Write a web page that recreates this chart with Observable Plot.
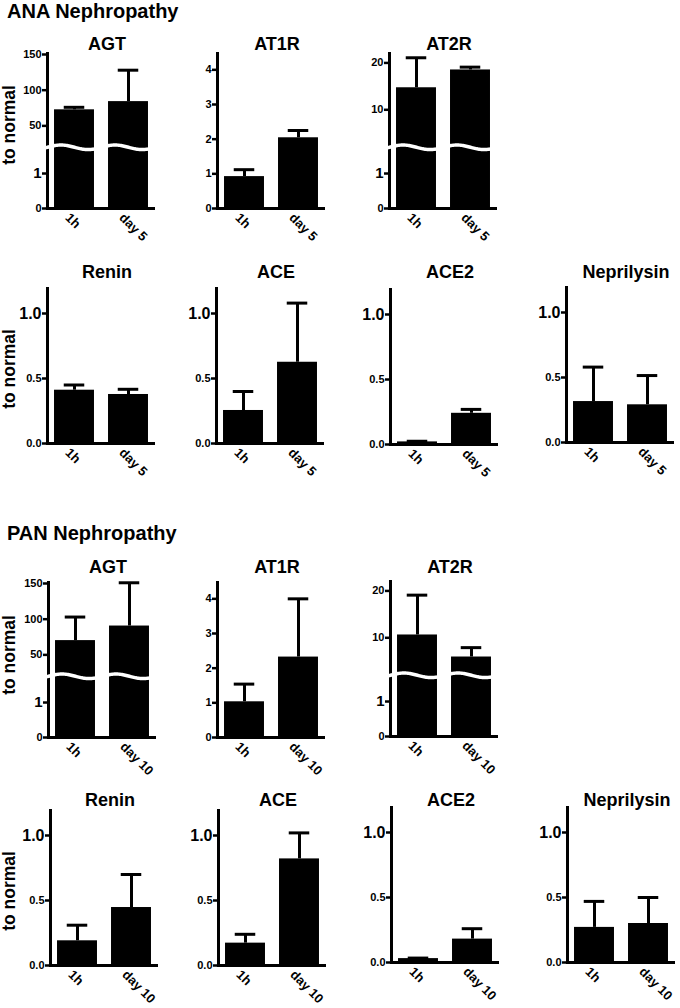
<!DOCTYPE html>
<html><head><meta charset="utf-8">
<script src="https://cdn.jsdelivr.net/npm/d3@7"></script>
<script src="https://cdn.jsdelivr.net/npm/@observablehq/plot@0.6"></script>
<style>
body{margin:0;background:#fff;}
#fig{position:relative;width:680px;height:1008px;overflow:hidden;font-family:"Liberation Sans",Arial,sans-serif;font-weight:bold;color:#000;}
.abs{position:absolute;white-space:nowrap;line-height:1;}
</style></head><body><div id="fig"></div>
<script>
// ---------------- data ----------------
const genes = ["AGT","AT1R","AT2R","Renin","ACE","ACE2","Neprilysin"];
const anaTimes = ["1h","day 5"];
const panTimes = ["1h","day 10"];
// ANA nephropathy: mean and SEM (relative to normal)
const anaMean1h   = [72.5, 0.92, 14.7, 0.41, 0.254, 0.02, 0.315];
const anaSem1h    = [3.5, 0.20, 6.4, 0.04, 0.146, 0.005, 0.265];
const anaMeanLate = [84, 2.04, 18.5, 0.377, 0.625, 0.24, 0.29];
const anaSemLate  = [44, 0.21, 0.6, 0.04, 0.455, 0.03, 0.225];
// PAN nephropathy
const panMean1h   = [70, 1.03, 10.6, 0.19, 0.172, 0.03, 0.27];
const panSem1h    = [33, 0.51, 8.5, 0.12, 0.068, 0.004, 0.20];
const panMeanLate = [90.4, 2.32, 5.9, 0.446, 0.82, 0.18, 0.30];
const panSemLate  = [60.6, 1.68, 2.0, 0.254, 0.20, 0.08, 0.20];
// y tick values
const agtTicks  = [0, 1, 50, 100, 150];
const at1rTicks = [0, 1, 2, 3, 4];
const at2rTicks = [0, 1, 10, 20];
const fracTicks = [0, 0.5, 1.0];
const sections = ["ANA Nephropathy", "PAN Nephropathy"];
const yTitle = "to normal";

// ---------------- layout ----------------
const M = {left: 40, right: 12, top: 8, bottom: 52};
const PH = 156, PW = 108;
const layout = [
  {section: 0, header: 11, rows: [
    {genes: ["AGT","AT1R","AT2R"], pos: [[47,52],[217,52],[389,52]], title: 44, ylab: 125},
    {genes: ["Renin","ACE","ACE2","Neprilysin"], pos: [[47,287],[216,287],[390,288],[566,286]], title: 271.5, ylab: 369}
  ]},
  {section: 1, header: 532.5, rows: [
    {genes: ["AGT","AT1R","AT2R"], pos: [[48,581],[217,581],[390,580]], title: 566.5, ylab: 655},
    {genes: ["Renin","ACE","ACE2","Neprilysin"], pos: [[50,809],[218,809],[391,806],[567,806]], title: 800, ylab: 891}
  ]}
];

function brokenScale(low, upMin, k) { return v => v <= low ? v : low + (v - upMin) * k; }
const axisCfg = {
  AGT:  {t: brokenScale(1.75, 20, 1/49), top: 4.46, ticks: agtTicks, big: [1], fmt: d => String(d), brk: 1.75, bigSize: 15},
  AT1R: {t: v => v, top: 4.5, ticks: at1rTicks, big: [], fmt: d => String(d)},
  AT2R: {t: brokenScale(1.75, 2, 0.134), top: 4.46, ticks: at2rTicks, big: [1], fmt: d => String(d), brk: 1.75, bigSize: 15}
};
const fracCfg = {t: v => v, top: 1.2, ticks: fracTicks, big: [1], fmt: d => d.toFixed(1), bigSize: 16};

const fig = document.getElementById("fig");
const FONT = '"Liberation Sans", Arial, sans-serif';

function addDiv(text, x, y, size, transform) {
  const d = document.createElement("div");
  d.className = "abs";
  d.textContent = text;
  d.style.left = x + "px";
  d.style.top = y + "px";
  d.style.fontSize = size + "px";
  d.style.transform = transform;
  fig.appendChild(d);
}

function panel(gene, times, mean, sem, ax, top) {
  const cfg = axisCfg[gene] || fracCfg;
  const t = cfg.t;
  const rows = times.map((time, i) => ({i, time, mean: mean[i], sem: sem[i]}));
  const labelOf = new Map(cfg.ticks.map(v => [t(v), cfg.fmt(v)]));
  const small = cfg.ticks.filter(v => !cfg.big.includes(v)).map(t);
  const big = cfg.big.map(t);
  const marks = [
    Plot.rectY(rows, {x1: d => d.i - 0.37, x2: d => d.i + 0.37, y1: 0, y2: d => t(d.mean), fill: "#000"}),
    Plot.ruleX(rows, {x: "i", y1: d => t(d.mean), y2: d => t(d.mean + d.sem), stroke: "#000", strokeWidth: 3}),
    Plot.ruleY(rows, {y: d => t(d.mean + d.sem), x1: d => d.i - 0.19, x2: d => d.i + 0.19, stroke: "#000", strokeWidth: 3}),
    Plot.ruleX([-0.5], {y1: 0, y2: cfg.top, stroke: "#000", strokeWidth: 3}),
    Plot.ruleY([0], {x1: -0.52, x2: 1.5, stroke: "#000", strokeWidth: 3})
  ];
  if (cfg.brk !== undefined) {
    const wave = d3.range(-0.6, 1.52, 0.02).map(x => ({x, y: cfg.brk + 0.065 * Math.sin(2 * Math.PI * (x + 0.5))}));
    marks.push(Plot.line(wave, {x: "x", y: "y", stroke: "#fff", strokeWidth: 3.5, curve: "linear"}));
  }
  marks.push(Plot.axisY({ticks: small, tickFormat: d => labelOf.get(d), tickSize: 5, tickPadding: 1, strokeWidth: 2.5, fontSize: 11, label: null}));
  if (big.length) marks.push(Plot.axisY({ticks: big, tickFormat: d => labelOf.get(d), tickSize: 5, tickPadding: 1, strokeWidth: 2.5, fontSize: cfg.bigSize, label: null}));
  marks.push(Plot.axisX({ticks: [0, 1], tickFormat: i => times[i], tickRotate: 45, tickSize: 0, tickPadding: 7, dx: -7, fontSize: 13, label: null}));
  const svg = Plot.plot({
    width: M.left + PW + M.right,
    height: M.top + PH + M.bottom,
    marginLeft: M.left, marginRight: M.right, marginTop: M.top, marginBottom: M.bottom,
    x: {type: "linear", domain: [-0.5, 1.5]},
    y: {type: "linear", domain: [0, cfg.top]},
    style: {fontFamily: FONT, fontWeight: "bold", background: "transparent", overflow: "visible", color: "#000"},
    marks
  });
  svg.style.position = "absolute";
  svg.style.left = (ax - M.left) + "px";
  svg.style.top = (top - M.top) + "px";
  svg.style.maxWidth = "none";
  fig.appendChild(svg);
}

const data = [
  {times: anaTimes, m1: anaMean1h, s1: anaSem1h, m2: anaMeanLate, s2: anaSemLate},
  {times: panTimes, m1: panMean1h, s1: panSem1h, m2: panMeanLate, s2: panSemLate}
];

layout.forEach(sec => {
  const d = data[sec.section];
  sec.rows.forEach(row => {
    row.genes.forEach((g, k) => {
      const gi = genes.indexOf(g);
      const [ax, top] = row.pos[k];
      panel(g, d.times, [d.m1[gi], d.m2[gi]], [d.s1[gi], d.s2[gi]], ax, top);
    });
  });
});

// text on top
layout.forEach(sec => {
  addDiv(sections[sec.section], 7, sec.header - 10, 20, "none");
  sec.rows.forEach(row => {
    row.genes.forEach((g, k) => {
      const [ax] = row.pos[k];
      addDiv(g, ax + 60, row.title - 9, 18, "translateX(-50%)");
    });
    addDiv(yTitle, 9.5, row.ylab, 17.5, "translate(-50%,-50%) rotate(-90deg)");
  });
});
</script></body></html>
